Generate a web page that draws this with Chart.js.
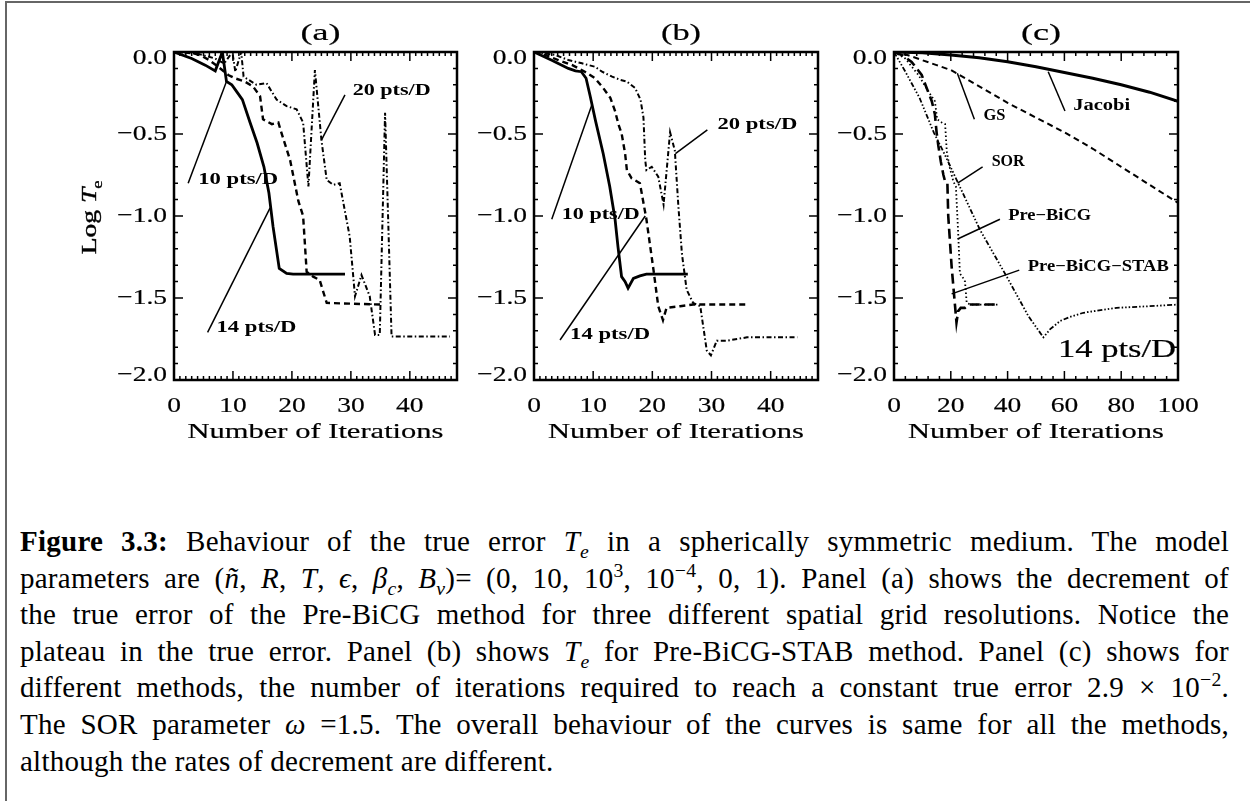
<!DOCTYPE html>
<html>
<head>
<meta charset="utf-8">
<title>Figure 3.3 - true error convergence</title>
<script src="https://cdn.jsdelivr.net/npm/chart.js@4.4.1/dist/chart.umd.min.js"></script>
<style>
  body { margin: 0; background: #fff; }
  #page { position: relative; width: 1250px; height: 801px; overflow: hidden; background: #fff; }
  #frame { position: absolute; left: 5px; top: 1px; width: 1300px; height: 900px; border-top: 2px solid #666; border-left: 2px solid #666; }
  canvas { position: absolute; top: 0; }
  #caption { position: absolute; left: 20px; top: 523px; width: 1209px; font-family: "Liberation Serif", serif; font-size: 29px; line-height: 36.6px; letter-spacing: 0.25px; color: #000; }
  #caption .ln { text-align: justify; text-align-last: justify; }
  #caption .ln.last { text-align-last: left; }
  sub, sup { font-size: 0.68em; line-height: 0; }
</style>
</head>
<body>
<div id="page">
  <div id="frame"></div>
  <canvas id="panel-a" width="470" height="450" style="left:0px"></canvas>
  <canvas id="panel-b" width="360" height="450" style="left:470px"></canvas>
  <canvas id="panel-c" width="420" height="450" style="left:830px"></canvas>
  <div id="caption">
    <div class="ln"><b>Figure 3.3:</b> Behaviour of the true error <i>T<sub>e</sub></i> in a spherically symmetric medium. The model</div>
    <div class="ln">parameters are (<i>ñ</i>, <i>R</i>, <i>T</i>, <i>ϵ</i>, <i>β<sub>c</sub></i>, <i>B<sub>ν</sub></i>)= (0, 10, 10<sup>3</sup>, 10<sup>−4</sup>, 0, 1). Panel (a) shows the decrement of</div>
    <div class="ln">the true error of the Pre-BiCG method for three different spatial grid resolutions. Notice the</div>
    <div class="ln">plateau in the true error. Panel (b) shows <i>T<sub>e</sub></i> for Pre-BiCG-STAB method. Panel (c) shows for</div>
    <div class="ln">different methods, the number of iterations required to reach a constant true error 2.9 × 10<sup>−2</sup>.</div>
    <div class="ln">The SOR parameter <i>ω</i> =1.5. The overall behaviour of the curves is same for all the methods,</div>
    <div class="ln last">although the rates of decrement are different.</div>
  </div>
</div>
<script>
var font_family = "'Liberation Serif', serif";

// (a) Pre-BiCG, log true error vs iteration, three grid resolutions
var a_iter_10 = [0, 3, 5.3, 7, 8.2, 8.9, 9.8, 10.6, 11.6, 12.9, 14.1, 15.25, 16.1, 16.8, 17.85, 19.1, 20.2, 29];
var a_err_10 = [0, -0.04, -0.08, -0.115, 0, -0.18, -0.2, -0.24, -0.29, -0.43, -0.555, -0.7, -0.86, -1.065, -1.32, -1.35, -1.355, -1.355];
var a_iter_14 = [0, 2.5, 4.5, 6, 7.5, 9.2, 10.3, 12, 13.4, 14.6, 15.1, 16.6, 17.7, 18.2, 19.7, 21.1, 21.9, 22.5, 23.6, 24.7, 25.9, 35];
var a_err_14 = [0, 0, -0.02, -0.05, -0.09, -0.14, -0.16, -0.18, -0.21, -0.27, -0.41, -0.44, -0.43, -0.49, -0.66, -0.91, -1.0, -1.34, -1.37, -1.39, -1.53, -1.54];
var a_iter_20 = [0, 4, 7, 8.5, 9.9, 10.4, 11.4, 11.8, 14, 15.7, 17.4, 19.1, 20.8, 21.9, 22.8, 23.9, 25, 25.9, 27, 28.1, 29.8, 30.7, 31.8, 33.2, 34.1, 34.9, 35.8, 36.9, 46.8];
var a_err_20 = [0, -0.01, -0.04, -0.07, 0, -0.12, 0, -0.15, -0.2, -0.19, -0.29, -0.33, -0.35, -0.43, -0.82, -0.11, -0.535, -0.78, -0.81, -0.8, -1.125, -1.49, -1.36, -1.49, -1.725, -1.725, -0.37, -1.735, -1.735];

// (b) Pre-BiCG-STAB
var b_iter_10 = [0, 3, 5.8, 7, 8, 8.8, 9.5, 10.4, 11.7, 12.8, 13.7, 14.2, 14.8, 15.4, 15.9, 16.8, 17.9, 19, 26];
var b_err_10 = [0, -0.05, -0.1, -0.115, -0.12, -0.16, -0.27, -0.42, -0.62, -0.82, -1.02, -1.19, -1.37, -1.4, -1.44, -1.38, -1.365, -1.355, -1.355];
var b_iter_14 = [0, 1.9, 4.1, 6.4, 8.6, 10.3, 11.7, 12.9, 13.7, 14.3, 14.8, 15.4, 15.7, 16.5, 17.9, 19, 20.2, 21, 21.8, 22.4, 24.7, 26.9, 36];
var b_err_14 = [0, -0.018, -0.049, -0.079, -0.12, -0.16, -0.22, -0.28, -0.36, -0.445, -0.495, -0.62, -0.72, -0.77, -0.8, -1.02, -1.33, -1.55, -1.635, -1.56, -1.55, -1.54, -1.54];
var b_iter_20 = [0, 3.6, 5.8, 8.1, 10.3, 11.5, 13.2, 14.6, 15.7, 17.1, 18, 18.5, 18.8, 19, 19.9, 21, 21.9, 23, 23.8, 24.4, 25, 25.8, 26.9, 28.1, 29.2, 29.9, 30.9, 32.6, 36, 44.5];
var b_err_20 = [0, -0.018, -0.049, -0.069, -0.09, -0.12, -0.15, -0.17, -0.18, -0.22, -0.29, -0.4, -0.66, -0.72, -0.7, -0.76, -0.93, -0.49, -0.6, -0.94, -1.23, -1.45, -1.53, -1.55, -1.82, -1.85, -1.76, -1.76, -1.74, -1.74];

// (c) all methods at 14 pts/D
var c_iter_jacobi = [0, 10, 20, 30, 40, 50, 60, 70, 80, 90, 100];
var c_err_jacobi = [0, -0.005, -0.018, -0.035, -0.06, -0.09, -0.125, -0.16, -0.2, -0.245, -0.3];
var c_iter_gs = [0, 5, 10, 15, 20, 25, 30, 40, 50, 60, 70, 80, 90, 100];
var c_err_gs = [0, -0.02, -0.05, -0.08, -0.11, -0.16, -0.21, -0.31, -0.4, -0.49, -0.59, -0.7, -0.81, -0.92];
var c_iter_sor = [0, 4, 9, 14, 18, 22.6, 30.3, 39.7, 47.3, 52.6, 55, 58.5, 62, 66.7, 78.4, 90, 100];
var c_err_sor = [0, -0.12, -0.28, -0.49, -0.63, -0.8, -1.085, -1.37, -1.61, -1.74, -1.69, -1.64, -1.615, -1.59, -1.56, -1.55, -1.54];
var c_iter_bicg = [0, 4, 8.6, 12.1, 14.4, 15.2, 16.8, 18, 18.6, 19.7, 20.9, 21.8, 22.6, 23.2, 24.4, 25, 25.6, 27, 37];
var c_err_bicg = [0, -0.04, -0.14, -0.24, -0.3, -0.41, -0.43, -0.44, -0.61, -0.71, -0.79, -0.82, -1.105, -1.35, -1.38, -1.4, -1.53, -1.54, -1.54];
var c_iter_stab = [0, 3, 6.2, 9.75, 11.5, 13.3, 14.4, 15, 15.6, 16.5, 17.4, 18, 18.8, 19.1, 20.3, 21.5, 22, 22.6, 23.5, 25, 26.5, 37];
var c_err_stab = [0, -0.02, -0.06, -0.14, -0.22, -0.3, -0.38, -0.49, -0.57, -0.67, -0.75, -0.79, -0.8, -1.0, -1.31, -1.55, -1.65, -1.58, -1.56, -1.56, -1.54, -1.54];

var y_ticks = [0, -0.5, -1, -1.5, -2];

function to_points(xs, ys) {
  var pts = [];
  for (var i = 0; i < xs.length; i++) {
    pts.push({ x: xs[i], y: ys[i] });
  }
  return pts;
}

function curve(xs, ys, width, dash) {
  return {
    data: to_points(xs, ys),
    showLine: true,
    borderColor: "#000",
    backgroundColor: "#000",
    borderWidth: width,
    borderDash: dash,
    pointRadius: 0,
    tension: 0,
    fill: false,
  };
}

var SOLID = [];
var DASHED = [6, 4];
var DASH_DOT = [5, 2.5, 1.5, 2.5];
var DASH_3DOT = [5, 2, 1.5, 2, 1.5, 2, 1.5, 2];
var DOTTED = [1.5, 2.5];
var LONG_DASH = [10, 5];

function fmt_tick(v) {
  if (Math.abs(v) < 1e-9) return "0.0";
  return v.toFixed(1).replace("-", "\u2212");
}

// plotter-style text: glyphs stretched sideways, either by a factor or to a given width
function wide_text(ctx, text, x, y, align, sx, width, heavy) {
  ctx.textAlign = "left";
  var natural = ctx.measureText(text).width;
  if (width) sx = width / natural;
  var w = natural * sx;
  var x0 = x;
  if (align === "center") x0 = x - w / 2;
  if (align === "right") x0 = x - w;
  ctx.save();
  ctx.translate(x0, y);
  ctx.scale(sx, 1);
  ctx.fillText(text, 0, 0);
  if (heavy) {
    ctx.lineWidth = heavy;
    ctx.strokeText(text, 0, 0);
  }
  ctx.restore();
}

// box, inward major/minor ticks on all sides, tick labels, pointer labels, titles
var idl_frame = {
  id: "idl_frame",
  afterDatasetsDraw: function (chart, args, opts) {
    var ctx = chart.ctx;
    var area = chart.chartArea;
    var xs = chart.scales.x;
    var ys = chart.scales.y;
    var mid = (area.left + area.right) / 2;
    ctx.save();
    ctx.strokeStyle = "#000";
    ctx.fillStyle = "#000";
    ctx.lineWidth = 1.5;
    ctx.beginPath();
    var n = Math.round(xs.max / opts.x_minor);
    for (var i = 0; i <= n; i++) {
      var v = i * opts.x_minor;
      var px = xs.getPixelForValue(v);
      var len = (Math.round(v) % opts.x_major === 0) ? 9 : 4;
      ctx.moveTo(px, area.bottom);
      ctx.lineTo(px, area.bottom - len);
      ctx.moveTo(px, area.top);
      ctx.lineTo(px, area.top + len);
    }
    for (var j = 0; j <= 20; j++) {
      var py = ys.getPixelForValue(-j / 10);
      var ylen = (j % 5 === 0) ? 9 : 4;
      ctx.moveTo(area.left, py);
      ctx.lineTo(area.left + ylen, py);
      ctx.moveTo(area.right, py);
      ctx.lineTo(area.right - ylen, py);
    }
    ctx.stroke();
    ctx.lineWidth = 2.5;
    ctx.strokeRect(area.left, area.top, area.right - area.left, area.bottom - area.top);

    // tick labels and axis titles
    ctx.font = "22px " + font_family;
    ctx.textBaseline = "middle";
    y_ticks.forEach(function (t, k) {
      var nudge = 0;
      if (k === 0) nudge = 6;
      if (k === y_ticks.length - 1) nudge = -5;
      wide_text(ctx, fmt_tick(t), area.left - 7, ys.getPixelForValue(t) + nudge, "right", 1.25, 0, 0.2);
    });
    ctx.textBaseline = "alphabetic";
    for (var t = 0; t <= xs.max; t += opts.x_major) {
      wide_text(ctx, String(t), xs.getPixelForValue(t), 412, "center", 1.25, 0, 0.2);
    }
    wide_text(ctx, "Number of Iterations", mid, 438, "center", 1, 256, 0.2);
    ctx.font = "24px " + font_family;
    wide_text(ctx, opts.title, mid + 5, 40, "center", 1, 40, 0.2);

    // labels with their pointer lines
    ctx.lineWidth = 1.5;
    ctx.textBaseline = "middle";
    ctx.font = "bold 16px " + font_family;
    opts.notes.forEach(function (note) {
      ctx.beginPath();
      ctx.moveTo(xs.getPixelForValue(note.from[0]), ys.getPixelForValue(note.from[1]));
      ctx.lineTo(xs.getPixelForValue(note.to[0]), ys.getPixelForValue(note.to[1]));
      ctx.stroke();
      wide_text(ctx, note.text, xs.getPixelForValue(note.x), ys.getPixelForValue(note.y), "left", 1, note.w);
    });
    if (opts.corner) {
      ctx.font = "26px " + font_family;
      wide_text(ctx, opts.corner, area.right - 2, ys.getPixelForValue(-1.817), "right", 1, 118, 0.2);
    }

    if (opts.y_title) {
      ctx.translate(90, 216);
      ctx.rotate(-Math.PI / 2);
      ctx.textBaseline = "middle";
      ctx.font = "22px " + font_family;
      var w1 = ctx.measureText("Log ").width * 1.25;
      ctx.font = "italic 22px " + font_family;
      var w2 = ctx.measureText("T").width * 1.25;
      var x0 = -(w1 + w2 + 10) / 2;
      ctx.font = "22px " + font_family;
      wide_text(ctx, "Log ", x0, 0, "left", 1.25, 0, 0.4);
      ctx.font = "italic 22px " + font_family;
      wide_text(ctx, "T", x0 + w1, 0, "left", 1.25, 0, 0.4);
      ctx.font = "15px " + font_family;
      wide_text(ctx, "e", x0 + w1 + w2 - 1, 8, "left", 1.25, 0, 0.3);
    }
    ctx.restore();
  },
};

function make_panel(canvas_id, settings) {
  var config = {
    type: "scatter",
    data: { datasets: settings.datasets },
    options: {
      responsive: false,
      animation: false,
      events: [],
      layout: { padding: { top: 52, right: settings.pad_right, left: 0, bottom: 0 } },
      plugins: {
        legend: { display: false },
        tooltip: { enabled: false },
        idl_frame: {
          x_minor: settings.x_minor,
          x_major: settings.x_major,
          notes: settings.notes,
          title: settings.title,
          corner: settings.corner,
          y_title: settings.y_title,
        },
      },
      scales: {
        x: {
          type: "linear",
          min: 0,
          max: settings.x_max,
          grid: { display: false },
          border: { display: false },
          ticks: { display: false, stepSize: settings.x_major },
          afterFit: function (scale) {
            scale.height = 70;
          },
        },
        y: {
          type: "linear",
          min: -2,
          max: 0,
          grid: { display: false },
          border: { display: false },
          ticks: { display: false, stepSize: 0.5 },
          afterFit: function (scale) {
            scale.width = settings.y_width;
          },
        },
      },
    },
    plugins: [idl_frame],
  };
  var canvas = document.getElementById(canvas_id);
  canvas.chart = new Chart(canvas.getContext("2d"), config);
}

make_panel("panel-a", {
  title: "(a)",
  y_title: true,
  x_max: 48, x_major: 10, x_minor: 1,
  y_width: 174, pad_right: 13,
  datasets: [
    curve(a_iter_10, a_err_10, 2.8, SOLID),
    curve(a_iter_14, a_err_14, 2.4, DASHED),
    curve(a_iter_20, a_err_20, 2, DASH_DOT),
  ],
  notes: [
    { text: "20 pts/D", w: 78, x: 30.3, y: -0.236, from: [29, -0.262], to: [25, -0.537] },
    { text: "10 pts/D", w: 80, x: 4.1, y: -0.78, from: [2.4, -0.8], to: [8.9, -0.18] },
    { text: "14 pts/D", w: 80, x: 7.2, y: -1.68, from: [5.7, -1.71], to: [16.3, -0.95] },
  ],
});

make_panel("panel-b", {
  title: "(b)",
  x_max: 48, x_major: 10, x_minor: 1,
  y_width: 64, pad_right: 12,
  datasets: [
    curve(b_iter_10, b_err_10, 2.8, SOLID),
    curve(b_iter_14, b_err_14, 2.4, DASHED),
    curve(b_iter_20, b_err_20, 2, DASH_DOT),
  ],
  notes: [
    { text: "20 pts/D", w: 80, x: 31, y: -0.445, from: [29.3, -0.475], to: [23.9, -0.62] },
    { text: "10 pts/D", w: 78, x: 4.7, y: -0.99, from: [3, -1.02], to: [9.8, -0.32] },
    { text: "14 pts/D", w: 80, x: 6.1, y: -1.725, from: [4.4, -1.756], to: [18.8, -1.0] },
  ],
});

make_panel("panel-c", {
  title: "(c)",
  corner: "14 pts/D",
  x_max: 100, x_major: 20, x_minor: 4,
  y_width: 64, pad_right: 72,
  datasets: [
    curve(c_iter_jacobi, c_err_jacobi, 3, SOLID),
    curve(c_iter_gs, c_err_gs, 2, DASHED),
    curve(c_iter_sor, c_err_sor, 1.8, DASH_3DOT),
    curve(c_iter_bicg, c_err_bicg, 1.8, DOTTED),
    curve(c_iter_stab, c_err_stab, 2.6, LONG_DASH),
  ],
  notes: [
    { text: "Jacobi", w: 57, x: 63.1, y: -0.33, from: [60.2, -0.36], to: [54.3, -0.12] },
    { text: "GS", w: 22, x: 31.5, y: -0.39, from: [28.3, -0.41], to: [22.3, -0.13] },
    { text: "SOR", w: 33, x: 34.4, y: -0.67, from: [31.2, -0.7], to: [22.4, -0.8] },
    { text: "Pre\u2212BiCG", w: 83, x: 40.2, y: -1.0, from: [37.3, -1.02], to: [22.4, -1.14] },
    { text: "Pre\u2212BiCG\u2212STAB", w: 141, x: 47.1, y: -1.31, from: [44.1, -1.33], to: [20.3, -1.475] },
  ],
});
</script>
</body>
</html>
